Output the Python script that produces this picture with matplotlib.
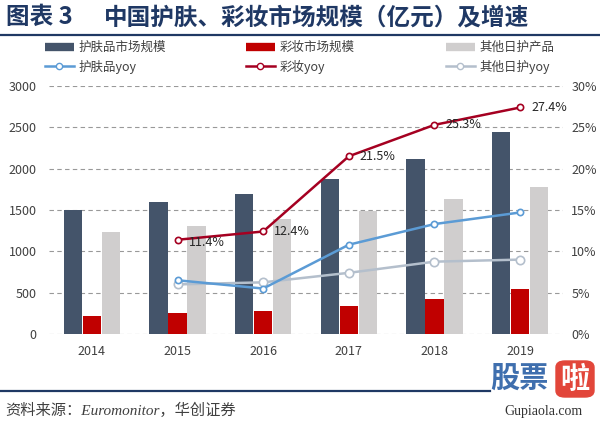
import matplotlib
matplotlib.use('Agg')
import matplotlib.pyplot as plt
import numpy as np
from matplotlib.patches import FancyBboxPatch
from matplotlib.lines import Line2D

plt.rcParams['font.family'] = ['Noto Sans CJK SC', 'DejaVu Sans']

years = ['2014', '2015', '2016', '2017', '2018', '2019']
skincare = [1500, 1600, 1693, 1875, 2120, 2440]
makeup = [222, 250, 282, 343, 427, 548]
other_care = [1230, 1310, 1390, 1490, 1628, 1774]

yoy_years = [1, 2, 3, 4, 5]
skincare_yoy = [6.5, 5.5, 10.8, 13.3, 14.7]
makeup_yoy = [11.4, 12.4, 21.5, 25.3, 27.4]
other_yoy = [6.0, 6.25, 7.4, 8.75, 9.0]
makeup_labels = ['11.4%', '12.4%', '21.5%', '25.3%', '27.4%']

c_dark = '#44546A'
c_red = '#C00000'
c_gray = '#D0CECE'
c_blue = '#5B9BD5'
c_dred = '#A50021'
c_lgray = '#B4BFCC'
c_navy = '#1F3864'
c_text = '#404040'

W, H = 600, 424
fig = plt.figure(figsize=(6, 4.24), dpi=100)
ax = fig.add_axes([49 / W, 1 - 334 / H, (563 - 49) / W, (334 - 86) / H])

x = np.arange(len(years))
bw = 0.215
ax.bar(x - 0.222, skincare, bw, color=c_dark, zorder=2)
ax.bar(x, makeup, bw, color=c_red, zorder=2)
ax.bar(x + 0.222, other_care, bw, color=c_gray, zorder=2)

ax.set_ylim(0, 3000)
ax.set_yticks(np.arange(0, 3001, 500))
ax.set_xlim(-0.5, 5.5)
ax.set_xticks(x)
ax.set_xticklabels(years)
ax.yaxis.grid(True, color='#999999', linestyle=(0, (4, 3)), linewidth=0.8)
ax.set_axisbelow(True)
for s in ax.spines.values():
    s.set_visible(False)
ax.tick_params(axis='y', length=0, pad=9, labelsize=9, labelcolor=c_text)
ax.tick_params(axis='x', length=0, pad=8, labelsize=9, labelcolor=c_text)

ax2 = ax.twinx()
ax2.set_ylim(0, 30)
ax2.set_yticks(np.arange(0, 31, 5))
ax2.set_yticklabels([f'{v}%' for v in range(0, 31, 5)])
for s in ax2.spines.values():
    s.set_visible(False)
ax2.tick_params(axis='y', length=0, pad=6, labelsize=9, labelcolor=c_text)

ax2.plot(yoy_years, other_yoy, color=c_lgray, lw=1.8, marker='o', ms=6,
         mfc='white', mec=c_lgray, mew=1.2, zorder=3)
ax2.plot(yoy_years, skincare_yoy, color=c_blue, lw=1.8, marker='o', ms=4.5,
         mfc='white', mec=c_blue, mew=1.2, zorder=4)
ax2.plot(yoy_years, makeup_yoy, color=c_dred, lw=1.8, marker='o', ms=4.5,
         mfc='white', mec=c_dred, mew=1.2, zorder=5)
for i, (xx, yy) in enumerate(zip(yoy_years, makeup_yoy)):
    dy = -2 if i == 0 else 0
    ax2.annotate(makeup_labels[i], (xx, yy), xytext=(8, dy), textcoords='offset points',
                 ha='left', va='center', fontsize=9, color='#262626', zorder=6)

# legend, three columns
cols = [
    (45, [('bar', c_dark, '护肤品市场规模'), ('line', c_blue, '护肤品yoy')]),
    (246, [('bar', c_red, '彩妆市场规模'), ('line', c_dred, '彩妆yoy')]),
    (446, [('bar', c_gray, '其他日护产品'), ('line', c_lgray, '其他日护yoy')]),
]
for xpos, items in cols:
    handles = []
    labels = []
    for kind, col, lab in items:
        if kind == 'bar':
            handles.append(Line2D([0], [0], color=col, lw=6, solid_capstyle='butt'))
        else:
            handles.append(Line2D([0], [0], color=col, lw=1.8, marker='o', ms=4.5,
                                  mfc='white', mec=col))
        labels.append(lab)
    fig.legend(handles, labels, loc='upper left', bbox_to_anchor=(xpos / W, 1 - 41 / H),
               frameon=False, fontsize=9, borderpad=0, borderaxespad=0,
               handlelength=2.3, handletextpad=0.4, labelspacing=0.45,
               labelcolor=c_text)

# title and rules
fig.text(6 / W, 1 - 17 / H, '图表 3', fontsize=17, fontweight='bold', color=c_navy,
         ha='left', va='center')
fig.text(104 / W, 1 - 17 / H, '中国护肤、彩妆市场规模（亿元）及增速', fontsize=17,
         fontweight='bold', color=c_navy, ha='left', va='center')
fig.add_artist(Line2D([0, 1], [1 - 35 / H, 1 - 35 / H], color=c_navy, lw=1.6))
fig.add_artist(Line2D([0, 490 / W], [1 - 391 / H, 1 - 391 / H], color=c_navy, lw=1.6))

fig.text(5 / W, 1 - 410 / H, '资料来源：Euromonitor，华创证券', fontsize=11,
         family=['Liberation Serif', 'Noto Sans CJK SC'], style='italic',
         color=c_text, ha='left', va='center')

# watermark
fig.text(490 / W, 1 - 378 / H, '股票', fontsize=21, fontweight='bold', color='#3F6FAE',
         ha='left', va='center')
fig.add_artist(FancyBboxPatch((556 / W, 1 - 397 / H), 38 / W, 36 / H,
                              boxstyle='round,pad=0,rounding_size=0.015',
                              transform=fig.transFigure, color='#E2463A'))
fig.text(575 / W, 1 - 379 / H, '啦', fontsize=21, fontweight='bold', color='white',
         ha='center', va='center')
fig.text(543 / W, 1 - 411 / H, 'Gupiaola.com', fontsize=10, family='Liberation Serif',
         color='#333333', ha='center', va='center')

fig.savefig('out.png', dpi=100)
